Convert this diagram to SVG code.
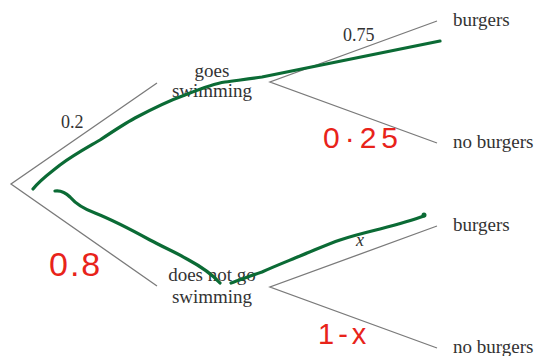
<svg xmlns="http://www.w3.org/2000/svg" width="540" height="356" viewBox="0 0 540 356">
<style>
.br{stroke:#7a7a7a;stroke-width:1.3;fill:none}
.lbl{font-family:"Liberation Serif",serif;font-size:19px;fill:#333}
.prob{font-family:"Liberation Serif",serif;font-size:18px;fill:#333}
.ink{stroke:#0b6b35;stroke-width:3.2;fill:none;stroke-linecap:round;stroke-linejoin:round}
.red{font-family:"Liberation Sans",sans-serif;fill:#e8231a}
</style>
<rect width="540" height="356" fill="#fff"/>
<g id="connectors">
<polyline class="br" points="157,83 11,184 157,286"/>
<polyline class="br" points="437,21 270,82 437,143"/>
<polyline class="br" points="437,226 270,287 437,348"/>
<text class="prob" x="61" y="128">0.2</text>
<text class="prob" x="343" y="41">0.75</text>
<text class="prob" x="356" y="246" font-style="italic">x</text>
</g>
<g id="node-goes-swimming">
<text class="lbl" x="212" y="77" text-anchor="middle">goes</text>
<text class="lbl" x="212" y="97" text-anchor="middle">swimming</text>
</g>
<g id="node-does-not-go-swimming">
<text class="lbl" x="212" y="281" text-anchor="middle">does not go</text>
<text class="lbl" x="212" y="303" text-anchor="middle">swimming</text>
</g>
<g id="node-burgers-1"><text class="lbl" x="453" y="26">burgers</text></g>
<g id="node-no-burgers-1"><text class="lbl" x="453" y="148">no burgers</text></g>
<g id="node-burgers-2"><text class="lbl" x="453" y="231">burgers</text></g>
<g id="node-no-burgers-2"><text class="lbl" x="453" y="353">no burgers</text></g>
<g id="annotations">
<path class="ink" d="M33,189 C40,180 46,176 60,165 C75,154 90,146 100,140 C112,132 124,124 135,118 C152,109 168,101 185,95 C200,89 212,84 225,82 C240,80 250,79 262,77 L440,41"/>
<path class="ink" d="M55,191 C62,190 66,193 70,197 C76,204 84,209 95,213 C110,219 130,229 150,240 C165,248 175,252 187,259 C200,266 212,274 220,283"/>
<path class="ink" d="M231,283 C240,280 250,276 262,272 C275,266 288,261 300,256 C315,250 328,244 340,240 C355,235 368,232 380,229 C395,225 410,221 424,216"/>
<circle cx="424" cy="215" r="2.5" fill="#0b6b35"/>
<text class="red" x="323" y="148" font-size="30" letter-spacing="5">0·25</text>
<text class="red" x="49" y="276" font-size="34" letter-spacing="2">0.8</text>
<text class="red" x="318" y="344" font-size="29" letter-spacing="4">1-x</text>
</g>
</svg>
